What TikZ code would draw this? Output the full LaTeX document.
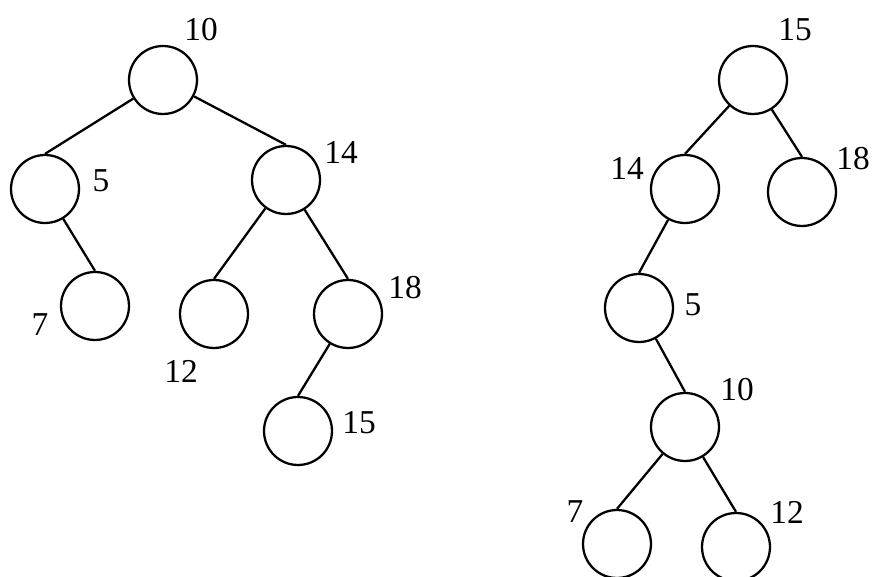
\documentclass[tikz,border=0pt]{standalone}
\usepackage{fontspec}
\setmainfont{Liberation Serif}
\usepackage{tikz}

\begin{document}
\begin{tikzpicture}[x=0.02cm, y=-0.02cm,
  key/.style={draw, line width=1.3pt, circle, minimum size=1.36cm, inner sep=0},
  keylabel/.style={inner sep=0, font=\fontsize{19}{19}\selectfont},
  link/.style={line width=1.3pt}]

\useasboundingbox (0,0) rectangle (873,577);

% left tree nodes

\node[key] (a10) at (163, 80) {};
\node[key] (a5) at (45, 189) {};
\node[key] (a14) at (286, 180) {};
\node[key] (a7) at (95, 306) {};
\node[key] (a12) at (214, 314) {};
\node[key] (a18) at (348, 314) {};
\node[key] (a15) at (298, 431) {};

\node[keylabel] (a10_label) at (201, 30) {10};
\node[keylabel] (a5_label) at (101, 181) {5};
\node[keylabel] (a14_label) at (341, 152) {14};
\node[keylabel] (a7_label) at (40, 325) {7};
\node[keylabel] (a12_label) at (181, 371) {12};
\node[keylabel] (a18_label) at (405, 288) {18};
\node[keylabel] (a15_label) at (359, 423) {15};

% left tree links
\draw[link] (a10) -- (a5.north);
\draw[link] (a10) -- (a14.north);
\draw[link] (a5) -- (a7.north);
\draw[link] (a14) -- (a12.north);
\draw[link] (a14) -- (a18.north);
\draw[link] (a18) -- (a15.north);

% right tree nodes

\node[key] (b15) at (753, 80) {};
\node[key] (b14) at (685, 189) {};
\node[key] (b18) at (802, 192) {};
\node[key] (b5) at (639, 308) {};
\node[key] (b10) at (685, 427) {};
\node[key] (b7) at (617, 544) {};
\node[key] (b12) at (736, 547) {};

\node[keylabel] (b15_label) at (795, 30) {15};
\node[keylabel] (b14_label) at (627, 168) {14};
\node[keylabel] (b18_label) at (853, 159) {18};
\node[keylabel] (b5_label) at (693, 305) {5};
\node[keylabel] (b10_label) at (737, 390) {10};
\node[keylabel] (b7_label) at (575, 512) {7};
\node[keylabel] (b12_label) at (787, 512) {12};

% right tree links
\draw[link] (b15) -- (b14.north);
\draw[link] (b15) -- (b18.north);
\draw[link] (b14) -- (b5.north);
\draw[link] (b5) -- (b10.north);
\draw[link] (b10) -- (b7.north);
\draw[link] (b10) -- (b12.north);

\end{tikzpicture}
\end{document}
